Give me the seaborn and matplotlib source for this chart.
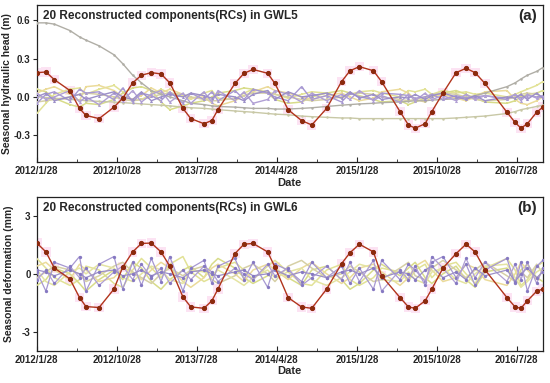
import pandas as pd
import numpy as np
import matplotlib
matplotlib.use('Agg')
import matplotlib.pyplot as plt
import seaborn as sns

sns.set_style('ticks')
plt.rcParams['font.family'] = ['Liberation Sans', 'DejaVu Sans']
plt.rcParams['font.weight'] = 'bold'

dates = ["2012-01-28", "2012-02-28", "2012-03-28", "2012-05-20", "2012-06-22", "2012-07-14",
         "2012-08-28", "2012-10-18", "2012-11-17", "2012-12-21", "2013-01-20", "2013-02-23",
         "2013-03-28", "2013-04-27", "2013-06-11", "2013-07-08", "2013-08-22", "2013-09-18",
         "2013-10-09", "2013-12-06", "2014-01-06", "2014-02-06", "2014-03-28", "2014-04-22",
         "2014-06-06", "2014-07-22", "2014-08-26", "2014-10-16", "2014-12-06", "2015-01-04",
         "2015-02-05", "2015-03-25", "2015-04-22", "2015-06-24", "2015-07-23", "2015-08-15",
         "2015-09-18", "2015-10-11", "2015-11-18", "2016-01-02", "2016-02-05", "2016-03-07",
         "2016-04-10", "2016-06-24", "2016-07-22", "2016-08-11", "2016-09-02", "2016-10-04",
         "2016-10-25"]

tick_dates = ["2012-01-28", "2012-10-28", "2013-07-28", "2014-04-28", "2015-01-28", "2015-10-28", "2016-07-28"]
tick_labels = ["2012/1/28", "2012/10/28", "2013/7/28", "2014/4/28", "2015/1/28", "2015/10/28", "2016/7/28"]

# ---- panel (a): GWL5 seasonal hydraulic head (m)
gwl5_red = [0.19, 0.195, 0.135, 0.05, -0.09, -0.145, -0.17, -0.08, -0.01, 0.11,
            0.17, 0.19, 0.18, 0.11, -0.09, -0.17, -0.21, -0.185, -0.10, 0.105,
            0.185, 0.215, 0.185, 0.105, -0.10, -0.185, -0.22, -0.09, 0.12, 0.205,
            0.237, 0.205, 0.12, -0.115, -0.22, -0.245, -0.21, -0.115, 0.03, 0.19,
            0.224, 0.19, 0.105, -0.12, -0.20, -0.245, -0.21, -0.12, -0.08]
gwl5_trend = [0.58, 0.58, 0.57, 0.52, 0.47, 0.445, 0.40, 0.33, 0.26, 0.17,
              0.11, 0.05, 0.02, 0.0, -0.03, -0.05, -0.06, -0.07, -0.075, -0.08,
              -0.085, -0.09, -0.09, -0.095, -0.095, -0.09, -0.085, -0.075, -0.065, -0.06,
              -0.055, -0.05, -0.045, -0.04, -0.035, -0.03, -0.03, -0.025, -0.02, -0.015,
              -0.005, 0.01, 0.03, 0.08, 0.11, 0.14, 0.17, 0.20, 0.23]
gwl5_slow = [0.0, -0.005, -0.01, -0.02, -0.025, -0.03, -0.035, -0.04, -0.045, -0.05,
             -0.055, -0.06, -0.065, -0.07, -0.08, -0.085, -0.09, -0.095, -0.10, -0.11,
             -0.115, -0.12, -0.13, -0.135, -0.14, -0.15, -0.155, -0.16, -0.165, -0.165,
             -0.17, -0.17, -0.17, -0.17, -0.17, -0.17, -0.17, -0.17, -0.17, -0.165,
             -0.16, -0.155, -0.15, -0.13, -0.115, -0.10, -0.09, -0.075, -0.065]
gwl5_purple = [
    [-0.05, 0.02, 0.04, -0.03, 0.06, 0.03, 0.04, -0.02, 0.07, -0.04,
     0.03, 0.01, -0.03, 0.04, -0.05, 0.03, -0.02, 0.04, -0.03, 0.05,
     -0.02, 0.06, 0.03, 0.0, -0.03, 0.08, -0.02, 0.01, -0.04, 0.03,
     0.0, -0.02, 0.03, 0.02, 0.01, -0.01, 0.0, 0.02, -0.02, 0.01,
     -0.01, 0.0, 0.01, -0.02, 0.02, -0.01, 0.01, 0.0, 0.01],
    [0.03, -0.02, 0.0, 0.05, -0.04, 0.0, -0.06, 0.03, -0.03, 0.05,
     -0.04, 0.02, 0.05, -0.04, 0.03, -0.05, 0.04, -0.04, 0.05, -0.03,
     0.04, -0.05, -0.02, 0.05, 0.02, -0.04, 0.03, -0.03, 0.02, -0.02,
     0.05, -0.03, 0.01, -0.04, 0.02, -0.03, 0.03, -0.02, 0.01, -0.03,
     0.02, -0.02, 0.01, -0.01, 0.02, -0.03, 0.02, -0.01, 0.0],
    [0.0, 0.03, -0.03, 0.0, 0.02, -0.02, 0.01, 0.04, 0.0, -0.02,
     0.04, -0.03, 0.0, 0.02, 0.0, 0.03, 0.01, -0.01, 0.02, 0.0,
     -0.03, 0.02, 0.05, -0.02, 0.04, 0.0, 0.01, 0.03, -0.01, 0.04,
     -0.01, 0.02, -0.02, 0.0, -0.01, 0.02, -0.02, 0.01, 0.03, 0.0,
     -0.02, 0.01, -0.03, 0.0, -0.01, 0.02, -0.02, 0.03, -0.01],
]
gwl5_yellow = [
    [-0.13, -0.05, 0.02, 0.06, 0.07, 0.02, 0.06, 0.09, 0.04, -0.03,
     -0.02, 0.02, 0.06, 0.03, 0.01, -0.02, 0.03, 0.05, -0.01, -0.02,
     0.03, 0.06, 0.04, 0.02, -0.01, 0.02, 0.04, 0.03, -0.01, 0.02,
     0.04, 0.05, 0.03, 0.0, 0.05, 0.04, 0.06, 0.02, 0.05, 0.03,
     0.04, 0.02, 0.03, 0.0, 0.02, 0.04, 0.06, 0.09, 0.12],
    [0.06, 0.04, -0.01, -0.06, -0.08, -0.05, -0.06, -0.02, 0.03, 0.07,
     0.08, 0.05, -0.04, -0.10, -0.07, -0.05, -0.03, 0.0, 0.03, 0.05,
     0.07, 0.06, 0.03, -0.02, -0.05, -0.04, 0.0, 0.03, 0.05, 0.03,
     0.01, -0.02, -0.04, -0.03, -0.06, -0.04, -0.01, 0.02, 0.03, 0.05,
     0.02, -0.01, -0.04, -0.05, -0.03, 0.0, 0.02, 0.03, 0.05],
    [0.03, 0.06, 0.08, 0.02, -0.03, 0.08, 0.09, 0.05, 0.0, -0.02,
     0.01, 0.07, 0.03, 0.06, 0.02, -0.01, 0.0, -0.05, -0.07, -0.03,
     0.01, 0.04, 0.08, 0.05, 0.03, 0.0, -0.02, 0.01, 0.03, 0.0,
     -0.03, -0.01, 0.04, 0.06, 0.03, -0.02, -0.04, 0.0, 0.02, -0.01,
     -0.03, 0.0, 0.04, 0.05, -0.02, -0.05, -0.06, -0.03, 0.0],
    [-0.04, -0.03, -0.02, 0.0, 0.02, 0.03, 0.02, 0.0, -0.02, -0.03,
     -0.02, 0.0, 0.02, 0.03, 0.02, 0.0, -0.02, -0.03, -0.03, -0.01,
     0.01, 0.03, 0.03, 0.02, 0.0, -0.02, -0.03, -0.02, 0.0, 0.02,
     0.03, 0.02, 0.0, -0.02, -0.03, -0.02, 0.0, 0.02, 0.03, 0.02,
     0.0, -0.02, -0.03, -0.02, 0.0, 0.02, 0.03, 0.02, 0.0],
]

# ---- panel (b): GWL6 seasonal deformation (mm)
gwl6_red = [1.6, 1.14, 0.3, -0.26, -1.23, -1.7, -1.75, -0.79, 0.35, 1.14,
            1.58, 1.6, 1.14, 0.4, -1.2, -1.72, -1.79, -1.4, -0.79, 1.05,
            1.54, 1.58, 1.14, 0.35, -1.23, -1.72, -1.79, -0.79, 0.53, 1.1,
            1.54, 1.14, -0.1, -1.23, -1.72, -1.79, -1.4, -0.79, 0.3, 1.05,
            1.54, 1.14, 0.21, -1.23, -1.72, -1.79, -1.4, -0.9, -0.79]
gwl6_purple = [
    [0.1, -0.9, 0.6, 0.3, 0.9, -0.9, 0.5, 0.9, -0.8, 0.6,
     -0.6, 0.8, -0.4, 0.9, -0.9, 0.3, 0.7, -0.5, 0.4, 0.8,
     -0.3, 0.6, -0.7, 0.5, 0.2, -0.4, 0.6, -0.2, 0.4, -0.5,
     0.3, -0.8, 0.7, -0.3, 0.5, 0.2, -0.4, 0.6, 0.9, -0.2,
     0.5, -0.6, 0.2, 0.8, -0.5, 0.6, -0.9, 0.4, 0.7],
    [-0.3, 0.2, -0.5, 0.4, -0.2, 0.3, -0.6, 0.1, 0.4, -0.3,
     0.5, -0.2, 0.3, -0.5, 0.2, -0.3, 0.4, 0.1, -0.4, 0.3,
     0.0, -0.3, 0.5, -0.1, 0.3, -0.6, -0.2, 0.4, -0.3, 0.6,
     -0.4, 0.7, -0.9, 0.2, -0.3, 0.4, -0.6, 0.9, 0.3, -0.5,
     0.8, -0.2, 0.6, -0.4, 0.5, -0.3, 0.6, -0.5, 0.3],
    [0.2, 0.1, -0.1, 0.2, 0.0, -0.2, 0.1, 0.2, -0.1, 0.0,
     0.2, -0.1, 0.1, 0.0, -0.2, 0.1, 0.2, 0.0, -0.1, 0.1,
     0.2, -0.1, 0.0, 0.2, -0.1, 0.1, 0.0, -0.2, 0.1, 0.2,
     0.0, 0.3, -0.2, 0.1, 0.0, -0.3, 0.2, 0.4, -0.2, 0.1,
     -0.3, 0.3, -0.1, 0.2, -0.4, 0.0, 0.3, -0.2, 0.1],
]
gwl6_yellow = [
    [0.8, 0.3, -0.2, -0.6, -0.3, 0.4, 0.2, -0.5, -0.7, 0.2,
     0.8, 0.3, -0.2, 0.5, 0.9, 0.1, -0.4, -0.2, 0.3, 0.6,
     0.2, -0.3, 0.4, 0.7, 0.1, -0.5, -0.6, 0.2, 0.5, -0.3,
     -0.6, -0.2, 0.3, 0.1, -0.4, 0.2, 0.5, -0.2, 0.4, 0.6,
     0.0, -0.5, 0.3, 0.8, 0.2, -0.6, -0.3, 0.4, 0.6],
    [-0.6, -0.3, 0.3, 0.0, -0.5, -0.9, -0.3, 0.2, -0.3, 0.6,
     0.3, -0.4, -0.8, -0.3, 0.2, 0.4, -0.2, 0.5, 0.8, 0.3,
     -0.2, -0.5, -0.1, 0.3, -0.2, -0.6, 0.2, 0.4, -0.3, -0.8,
     -0.5, 0.2, 0.5, -0.1, 0.3, 0.6, -0.2, -0.5, 0.0, 0.4,
     -0.3, -0.7, 0.1, 0.3, -0.4, 0.2, 0.5, -0.2, -0.4],
    [0.4, 0.6, 0.2, -0.3, 0.5, 0.2, -0.4, -0.2, 0.3, 0.1,
     -0.3, 0.2, 0.6, 0.3, -0.4, -0.7, -0.2, 0.3, 0.5, 0.0,
     -0.4, 0.2, 0.5, 0.2, -0.3, 0.3, 0.6, 0.0, -0.5, -0.2,
     0.3, 0.5, 0.1, -0.6, -0.2, 0.4, 0.7, 0.2, -0.4, -0.2,
     0.5, 0.3, -0.3, -0.6, 0.0, 0.6, 0.2, -0.3, 0.2],
    [-0.2, 0.1, 0.4, 0.2, 0.0, -0.4, -0.1, 0.4, 0.6, 0.1,
     -0.2, -0.5, 0.0, 0.3, -0.1, 0.2, 0.4, -0.3, -0.5, -0.1,
     0.3, 0.5, 0.0, -0.4, 0.4, 0.7, 0.3, -0.2, 0.0, 0.4,
     0.1, -0.4, -0.3, 0.3, 0.6, -0.1, -0.3, 0.3, 0.7, 0.2,
     -0.2, 0.2, 0.6, -0.1, -0.4, 0.1, -0.2, 0.5, 0.0],
    [0.2, -0.4, -0.6, 0.1, 0.3, 0.0, 0.5, 0.3, -0.2, -0.4,
     0.0, 0.4, 0.2, -0.3, -0.5, 0.2, 0.1, -0.1, 0.2, -0.3,
     -0.6, -0.2, 0.2, -0.2, 0.1, 0.3, -0.3, -0.6, -0.2, 0.1,
     0.5, 0.3, -0.3, -0.4, 0.1, -0.3, -0.5, 0.1, 0.3, -0.3,
     -0.5, 0.0, 0.4, 0.5, -0.2, -0.7, -0.4, 0.1, 0.3],
]

x = pd.to_datetime(dates)
yellows = ['#e2e296', '#d8dc8a', '#ebdb9a', '#d6d0a6', '#e4e4a2']
purples = ['#a798d2', '#b09fd4', '#9c8fc8']

fig = plt.figure(figsize=(5.5, 3.83), dpi=100)
ax1 = fig.add_axes([0.067, 0.577, 0.920, 0.410])
ax2 = fig.add_axes([0.067, 0.084, 0.920, 0.402])


def draw_red(ax, vals):
    # pink halo squares behind the red points
    sns.scatterplot(x=x, y=vals, ax=ax, marker='s', s=45, color='#fce3f3',
                    edgecolor='none', zorder=1, legend=False)
    sns.lineplot(x=x, y=vals, ax=ax, color='#b1341c', lw=1.0, marker='o',
                 markersize=3.0, markerfacecolor='#8c2a0e', markeredgecolor='#8c2a0e',
                 zorder=6, legend=False)


# panel a
for i, v in enumerate(gwl5_yellow):
    sns.lineplot(x=x, y=v, ax=ax1, color=yellows[i], lw=1.1, marker='s', markersize=1.8,
                 markeredgewidth=0, zorder=3, legend=False)
for i, v in enumerate(gwl5_purple):
    sns.lineplot(x=x, y=v, ax=ax1, color=purples[i], lw=1.0, marker='^', markersize=2.2,
                 markeredgewidth=0, zorder=4, legend=False)
sns.lineplot(x=x, y=gwl5_trend, ax=ax1, color='#b0aea6', lw=1.0, marker='o', markersize=1.8,
             markeredgewidth=0, zorder=3, legend=False)
sns.lineplot(x=x, y=gwl5_slow, ax=ax1, color='#c8c8a6', lw=1.0, marker='o', markersize=1.8,
             markeredgewidth=0, zorder=3, legend=False)
draw_red(ax1, gwl5_red)

# panel b
for i, v in enumerate(gwl6_yellow):
    sns.lineplot(x=x, y=v, ax=ax2, color=yellows[i], lw=1.1, zorder=3, legend=False)
for i, v in enumerate(gwl6_purple):
    sns.lineplot(x=x, y=v, ax=ax2, color=purples[i], lw=0.9, marker='o', markersize=2.4,
                 markerfacecolor='#8679c2', markeredgewidth=0, zorder=4, legend=False)
draw_red(ax2, gwl6_red)

xmin, xmax = pd.Timestamp('2012-01-28'), pd.Timestamp('2016-10-25')
tick_pos = pd.to_datetime(tick_dates)
minor_pos = [tick_pos[i] + (tick_pos[i + 1] - tick_pos[i]) / 2 for i in range(len(tick_pos) - 1)]

for ax in (ax1, ax2):
    ax.set_xlim(xmin, xmax)
    ax.set_xticks(tick_pos)
    ax.set_xticklabels(tick_labels, fontsize=7, fontweight='bold')
    ax.set_xticks(minor_pos, minor=True)
    ax.tick_params(axis='x', which='both', direction='in', pad=3)
    ax.tick_params(axis='x', which='major', length=3.5)
    ax.tick_params(axis='x', which='minor', length=2)
    ax.tick_params(axis='y', direction='out', length=3, pad=1.5, labelsize=7)
    ax.set_xlabel('Date', fontsize=8, fontweight='bold', labelpad=1)
    for s in ax.spines.values():
        s.set_linewidth(0.9)
        s.set_color('#222222')

ax1.set_ylim(-0.51, 0.72)
ax1.set_yticks([-0.3, 0.0, 0.3, 0.6])
ax1.set_yticklabels(['-0.3', '0.0', '0.3', '0.6'], fontweight='bold')
ax1.set_ylabel('Seasonal hydraulic head (m)', fontsize=7.5, fontweight='bold', labelpad=1)
ax1.text(0.012, 0.93, '20 Reconstructed components(RCs) in GWL5', transform=ax1.transAxes,
         fontsize=8.5, fontweight='bold', va='center', ha='left')
ax1.text(0.988, 0.93, '(a)', transform=ax1.transAxes, fontsize=11, fontweight='bold',
         va='center', ha='right')

ax2.set_ylim(-4, 4)
ax2.set_yticks([-3, 0, 3])
ax2.set_yticklabels(['-3', '0', '3'], fontweight='bold')
ax2.set_ylabel('Seasonal deformation (mm)', fontsize=7.5, fontweight='bold', labelpad=6)
ax2.text(0.012, 0.93, '20 Reconstructed components(RCs) in GWL6', transform=ax2.transAxes,
         fontsize=8.5, fontweight='bold', va='center', ha='left')
ax2.text(0.988, 0.93, '(b)', transform=ax2.transAxes, fontsize=11, fontweight='bold',
         va='center', ha='right')

fig.savefig('out.png', dpi=100)
